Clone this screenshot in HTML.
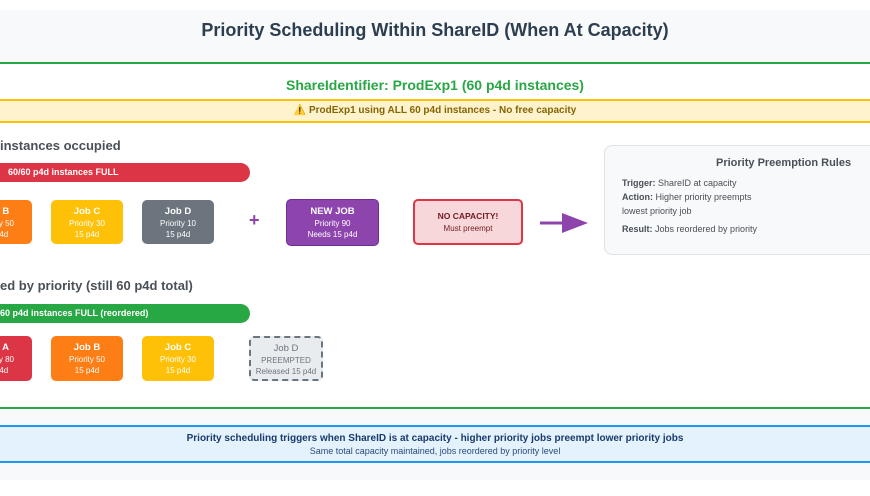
<!DOCTYPE html>
<html><head><meta charset="utf-8"><style>
*{margin:0;padding:0;box-sizing:border-box}
body{width:870px;height:496px;background:#fff;position:relative;overflow:hidden;font-family:"Liberation Sans",Arial,sans-serif;color:#333}
.a{position:absolute}
.job{position:absolute;border-radius:5px;color:#fff;text-align:center;font-size:8px;line-height:11px;padding-top:5px}
.job b{font-size:9.5px;display:block;line-height:13px}
.c{text-align:center}
</style></head><body>
<div class="a" style="left:0;top:10px;width:870px;height:470px;background:#f8f9fa"></div>
<div class="a c" style="left:0;top:20px;width:870px;font-size:18px;font-weight:bold;color:#2c3e50">Priority Scheduling Within ShareID (When At Capacity)</div>
<div class="a" style="left:-10px;top:62px;width:890px;height:347px;background:#fff;border-top:2px solid #28a745;border-bottom:2px solid #28a745"></div>
<div class="a c" style="left:0;top:77px;width:870px;font-size:14px;font-weight:bold;color:#28a745">ShareIdentifier: ProdExp1 (60 p4d instances)</div>
<div class="a c" style="left:0;top:99px;width:870px;height:24px;background:#fff3cd;border-top:2px solid #ffc107;border-bottom:2px solid #ffc107;font-size:10px;font-weight:bold;color:#856404;line-height:20px">⚠️ ProdExp1 using ALL 60 p4d instances - No free capacity</div>

<div class="a" style="left:0;top:138px;font-size:13px;font-weight:bold;color:#495057">instances occupied</div>
<div class="a" style="left:-20px;top:163px;width:270px;height:19px;background:#dc3545;border-radius:10px;color:#fff;font-size:9px;font-weight:bold;line-height:19px;padding-left:28px">60/60 p4d instances FULL</div>
<div class="job" style="left:-40px;top:200px;width:72px;height:44px;background:#fd7e14"><b>Job B</b>Priority 50<br>15 p4d</div>
<div class="job" style="left:51px;top:200px;width:72px;height:44px;background:#ffc107"><b>Job C</b>Priority 30<br>15 p4d</div>
<div class="job" style="left:142px;top:200px;width:72px;height:44px;background:#6c757d"><b>Job D</b>Priority 10<br>15 p4d</div>
<div class="a" style="left:249px;top:210px;font-size:18px;font-weight:bold;color:#8e44ad">+</div>
<div class="job" style="left:286px;top:199px;width:93px;height:47px;background:#8e44ad;border:1px solid #6f2c91"><b>NEW JOB</b>Priority 90<br>Needs 15 p4d</div>
<div class="a c" style="left:413px;top:199px;width:110px;height:46px;background:#f8d7da;border:2px solid #dc3545;border-radius:5px;padding-top:10px;font-size:8px;color:#721c24"><b style="font-size:8.5px;display:block;margin-bottom:3px">NO CAPACITY!</b>Must preempt</div>
<svg class="a" style="left:538px;top:210px" width="54" height="26"><line x1="2" y1="13" x2="30" y2="13" stroke="#8e44ad" stroke-width="3"/><polygon points="24,3 50,13 24,23" fill="#8e44ad"/></svg>
<div class="a" style="left:604px;top:145px;width:290px;height:110px;background:#f8f9fa;border:1px solid #dee2e6;border-radius:8px"></div>
<div class="a" style="left:716px;top:157px;font-size:11px;font-weight:bold;color:#495057">Priority Preemption Rules</div>
<div class="a" style="left:622px;top:176px;font-size:9px;line-height:14px;color:#495057"><b>Trigger:</b> ShareID at capacity<br><b>Action:</b> Higher priority preempts<br>lowest priority job<div style="height:4px"></div><b>Result:</b> Jobs reordered by priority</div>

<div class="a" style="left:0;top:278px;font-size:13px;font-weight:bold;color:#495057">ed by priority (still 60 p4d total)</div>
<div class="a" style="left:-20px;top:304px;width:270px;height:19px;background:#28a745;border-radius:10px;color:#fff;font-size:9px;font-weight:bold;line-height:19px;padding-left:20px">60 p4d instances FULL (reordered)</div>
<div class="job" style="left:-40px;top:336px;width:72px;height:45px;background:#dc3545"><b>Job A</b>Priority 80<br>15 p4d</div>
<div class="job" style="left:51px;top:336px;width:72px;height:45px;background:#fd7e14"><b>Job B</b>Priority 50<br>15 p4d</div>
<div class="job" style="left:142px;top:336px;width:72px;height:45px;background:#ffc107"><b>Job C</b>Priority 30<br>15 p4d</div>
<div class="job" style="left:249px;top:336px;width:74px;height:45px;background:#e9ecef;border:2px dashed #6c757d;color:#6c757d;padding-top:4px"><b style="font-weight:normal">Job D</b>PREEMPTED<br>Released 15 p4d</div>

<div class="a c" style="left:0;top:425px;width:870px;height:38px;background:#e3f2fd;border-top:2px solid #2196f3;border-bottom:2px solid #2196f3;padding-top:5px;font-size:10px;color:#1a3a6b;line-height:13px"><b>Priority scheduling triggers when ShareID is at capacity - higher priority jobs preempt lower priority jobs</b><br><span style="font-size:9px;color:#2c4a7a">Same total capacity maintained, jobs reordered by priority level</span></div>
</body></html>
